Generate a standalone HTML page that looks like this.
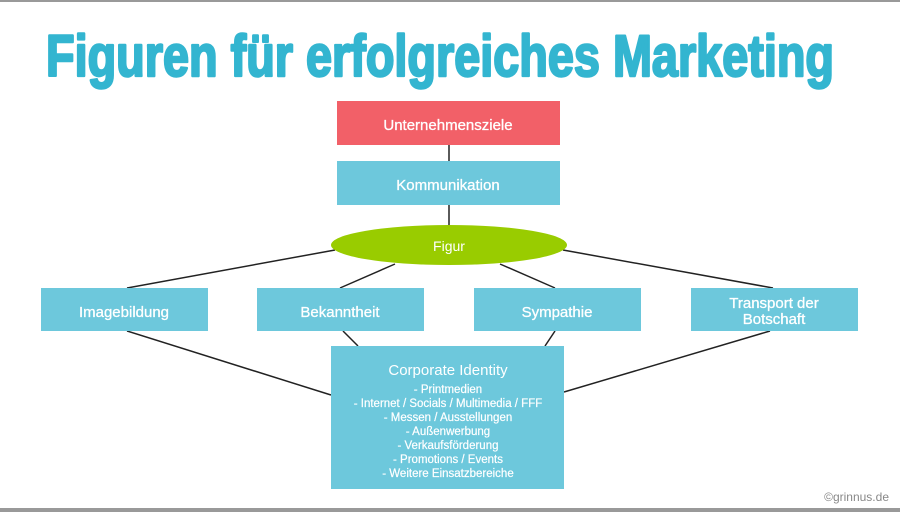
<!DOCTYPE html>
<html><head><meta charset="utf-8"><style>
body{margin:0;background:#fff}
svg{display:block}
text{font-family:"Liberation Sans",sans-serif}
</style></head><body>
<svg width="900" height="512" viewBox="0 0 900 512" xmlns="http://www.w3.org/2000/svg">
<rect x="0" y="0" width="900" height="2" fill="#999"/>
<rect x="0" y="508" width="900" height="4" fill="#999"/>
<text x="46" y="76" font-size="58" font-weight="bold" fill="#33b5d0" stroke="#33b5d0" stroke-width="2.5" stroke-linejoin="round" textLength="788" lengthAdjust="spacingAndGlyphs">Figuren für erfolgreiches Marketing</text>
<g stroke="#222" stroke-width="1.5">
<line x1="449" y1="145" x2="449" y2="161"/>
<line x1="449" y1="205" x2="449" y2="226"/>
<line x1="335" y1="250" x2="127" y2="288"/>
<line x1="395" y1="264" x2="340" y2="288"/>
<line x1="500" y1="264" x2="555" y2="288"/>
<line x1="563" y1="250" x2="773" y2="288"/>
<line x1="127" y1="331" x2="331" y2="395"/>
<line x1="343" y1="331" x2="358" y2="346"/>
<line x1="555" y1="331" x2="545" y2="346"/>
<line x1="770" y1="331" x2="564" y2="392"/>
</g>
<rect x="337" y="101" width="223" height="44" fill="#f26068"/>
<text x="448" y="130" font-size="15" fill="#fff" stroke="#fff" stroke-width="0.3" text-anchor="middle">Unternehmensziele</text>
<rect x="337" y="161" width="223" height="44" fill="#6dc8dc"/>
<text x="448" y="190" font-size="15" fill="#fff" stroke="#fff" stroke-width="0.3" text-anchor="middle">Kommunikation</text>
<ellipse cx="449" cy="245" rx="118" ry="20" fill="#99cc00"/>
<text x="449" y="251" font-size="14" fill="#fff" text-anchor="middle">Figur</text>
<g fill="#6dc8dc">
<rect x="41" y="288" width="167" height="43"/>
<rect x="257" y="288" width="167" height="43"/>
<rect x="474" y="288" width="167" height="43"/>
<rect x="691" y="288" width="167" height="43"/>
<rect x="331" y="346" width="233" height="143"/>
</g>
<g fill="#fff" font-size="15" text-anchor="middle" stroke="#fff" stroke-width="0.3">
<text x="124" y="317">Imagebildung</text>
<text x="340" y="317">Bekanntheit</text>
<text x="557" y="317">Sympathie</text>
<text x="774" y="308">Transport der</text>
<text x="774" y="324">Botschaft</text>
<text x="448" y="375" font-size="15" stroke-width="0">Corporate Identity</text>
<g font-size="11.5" stroke-width="0.2">
<text x="448" y="393">- Printmedien</text>
<text x="448" y="407">- Internet / Socials / Multimedia / FFF</text>
<text x="448" y="421">- Messen / Ausstellungen</text>
<text x="448" y="435">- Außenwerbung</text>
<text x="448" y="449">- Verkaufsförderung</text>
<text x="448" y="463">- Promotions / Events</text>
<text x="448" y="477">- Weitere Einsatzbereiche</text>
</g>
</g>
<text x="889" y="501" font-size="12" fill="#888" text-anchor="end">©grinnus.de</text>
</svg>
</body></html>
